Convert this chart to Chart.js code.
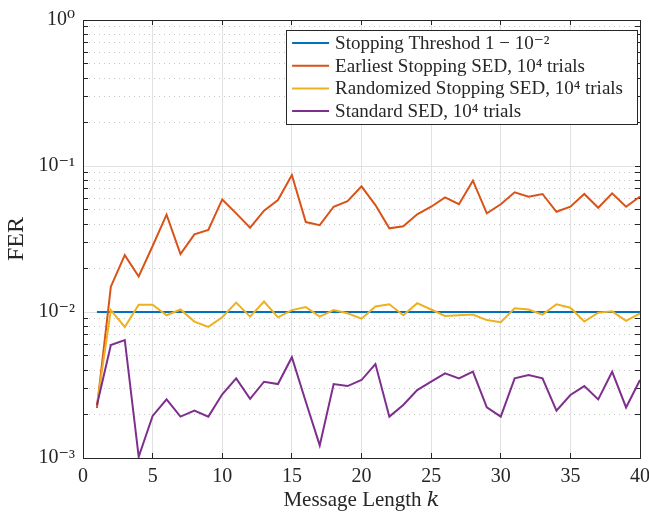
<!DOCTYPE html>
<html>
<head>
<meta charset="utf-8">
<script src="https://cdn.jsdelivr.net/npm/chart.js@4.4.1/dist/chart.umd.min.js"></script>
<style>
  html, body { margin: 0; padding: 0; background: #fff; }
</style>
</head>
<body>
<canvas id="ferChart" width="649" height="513"></canvas>
<script>
// message lengths
var k = [1, 2, 3, 4, 5, 6, 7, 8, 9, 10, 11, 12, 13, 14, 15, 16, 17, 18, 19, 20,
         21, 22, 23, 24, 25, 26, 27, 28, 29, 30, 31, 32, 33, 34, 35, 36, 37, 38, 39, 40];

// stopping threshold 1 - 10^-2 (flat line)
var kThreshold = [1, 40];
var threshold = [0.01, 0.01];

var earliest = [0.0022, 0.0149, 0.0245, 0.0175, 0.0283, 0.0464, 0.0249, 0.034, 0.0365, 0.059,
                0.0474, 0.0378, 0.0494, 0.0585, 0.0867, 0.0413, 0.0393, 0.0526, 0.0575, 0.0726,
                0.054, 0.0374, 0.0386, 0.0467, 0.0526, 0.061, 0.0547, 0.0793, 0.0474, 0.0547,
                0.066, 0.0617, 0.0643, 0.0486, 0.0526, 0.0643, 0.0518, 0.065, 0.0526, 0.0617];

var randomized = [0.0023, 0.0103, 0.0079, 0.0112, 0.0112, 0.0095, 0.0104, 0.0086, 0.0079, 0.0092,
                  0.0116, 0.0093, 0.0118, 0.0092, 0.0103, 0.0108, 0.0093, 0.0103, 0.0098, 0.009,
                  0.0109, 0.0113, 0.0095, 0.0115, 0.0104, 0.0094, 0.0095, 0.0096, 0.0088, 0.0085,
                  0.0106, 0.0104, 0.0096, 0.0113, 0.0107, 0.0086, 0.0099, 0.0101, 0.0087, 0.0098];

var standard = [0.0023, 0.00594, 0.00643, 0.00102, 0.00194, 0.00252, 0.00192, 0.00211, 0.00192, 0.00273,
                0.00351, 0.00254, 0.00333, 0.00321, 0.0049, 0.00243, 0.00122, 0.00321, 0.00311, 0.00342,
                0.0044, 0.00192, 0.00231, 0.00292, 0.00333, 0.0038, 0.00351, 0.0039, 0.00222, 0.00192,
                0.00351, 0.0037, 0.00351, 0.00211, 0.0027, 0.00311, 0.00252, 0.0039, 0.00222, 0.00342];

var yTickValues = [0.001, 0.01, 0.1, 1];
var yTickLabels = ['10\u207B\u00B3', '10\u207B\u00B2', '10\u207B\u00B9', '10\u2070'];

var labels = [
  'Stopping Threshod 1 \u2212 10\u207B\u00B2',
  'Earliest Stopping SED, 10\u2074 trials',
  'Randomized Stopping SED, 10\u2074 trials',
  'Standard SED, 10\u2074 trials'
];

var serif = '"Liberation Serif", "DejaVu Serif", serif';
var axisColor = '#262626';

function pts(xs, ys) {
  return xs.map(function (x, i) { return {x: x, y: ys[i]}; });
}
function decadeIndex(v) {
  return yTickValues.findIndex(function (t) { return Math.abs(v - t) / t < 1e-6; });
}
// keep only 1..9 x 10^n ticks (drop the 1.5 ones chart.js adds)
function wholeMantissa(scale) {
  scale.ticks = scale.ticks.filter(function (t) {
    var m = t.value / Math.pow(10, Math.floor(Math.log10(t.value) + 1e-9));
    return Math.abs(m - Math.round(m)) < 1e-6;
  });
}
function noPad(s) {
  s.paddingLeft = 0; s.paddingRight = 0; s.paddingTop = 0; s.paddingBottom = 0;
}

var legendBox = {
  id: 'legendBox',
  afterDatasetsDraw: function (chart) {
    var ctx = chart.ctx, area = chart.chartArea;
    var sets = chart.data.datasets;
    ctx.save();
    ctx.font = '19px ' + serif;
    var maxW = Math.max.apply(null, sets.map(function (d) { return ctx.measureText(d.label).width; }));
    var rowH = 22.7;
    var w = 6 + 37 + 6 + maxW + 14;
    var h = 94;
    var right = area.right - 3, top = area.top + 10;
    var left = right - w;
    ctx.fillStyle = '#fff';
    ctx.fillRect(left, top, w, h);
    ctx.strokeStyle = axisColor;
    ctx.lineWidth = 1;
    ctx.strokeRect(Math.round(left) + 0.5, Math.round(top) + 0.5, Math.round(w), Math.round(h));
    ctx.textBaseline = 'middle';
    ctx.textAlign = 'left';
    sets.forEach(function (d, i) {
      var y = top + 13 + i * rowH;
      ctx.strokeStyle = d.borderColor;
      ctx.lineWidth = 2;
      ctx.beginPath();
      ctx.moveTo(left + 6, y);
      ctx.lineTo(left + 43, y);
      ctx.stroke();
      ctx.fillStyle = axisColor;
      ctx.fillText(d.label, left + 49, y + 1);
    });
    ctx.restore();
  }
};

var ctx = document.getElementById('ferChart').getContext('2d');
var ferChart = new Chart(ctx, {
  type: 'line',
  data: {
    datasets: [
      { label: labels[0], data: pts(kThreshold, threshold), borderColor: '#0072BD', order: 4 },
      { label: labels[1], data: pts(k, earliest), borderColor: '#D95319', order: 3 },
      { label: labels[2], data: pts(k, randomized), borderColor: '#EDB120', order: 2 },
      { label: labels[3], data: pts(k, standard), borderColor: '#7E2F8E', order: 1 }
    ]
  },
  options: {
    responsive: false,
    animation: false,
    layout: { padding: { left: 0, right: 9, top: 20, bottom: 0 } },
    elements: {
      line: { borderWidth: 2, tension: 0, fill: false },
      point: { radius: 0 }
    },
    plugins: {
      legend: { display: false },
      tooltip: { enabled: false }
    },
    scales: {
      x: {
        type: 'linear', position: 'bottom', min: 0, max: 40,
        ticks: { stepSize: 5, color: axisColor, font: { family: serif, size: 20 }, padding: 12, maxRotation: 0 },
        grid: {
          color: function (c) { return (c.tick && (c.tick.value === 0 || c.tick.value === 40)) ? 'rgba(0,0,0,0)' : '#e2e2e2'; },
          tickLength: -5, tickColor: axisColor, tickBorderDash: []
        },
        border: { color: axisColor, width: 1 },
        title: { display: true, text: 'Message Length \uD835\uDC58', color: axisColor, font: { family: serif, size: 21 }, padding: { top: 0, bottom: 0 } },
        afterFit: function (s) { noPad(s); s.height = 55; }
      },
      x2: {
        type: 'linear', position: 'top', min: 0, max: 40,
        ticks: { stepSize: 5, display: false },
        grid: { drawOnChartArea: false, tickLength: -5, tickColor: axisColor },
        border: { color: axisColor, width: 1 },
        afterFit: function (s) { noPad(s); s.height = 0; }
      },
      y: {
        type: 'logarithmic', position: 'left', min: 0.001, max: 1,
        afterBuildTicks: wholeMantissa,
        ticks: {
          autoSkip: false, color: axisColor, font: { family: serif, size: 20 }, padding: 13,
          callback: function (v) { var i = decadeIndex(v); return i >= 0 ? yTickLabels[i] : ''; }
        },
        grid: {
          color: function (c) { return (c.tick && decadeIndex(c.tick.value) >= 0) ? 'rgba(0,0,0,0)' : '#c4c4c4'; },
          tickLength: -5, tickColor: axisColor, tickBorderDash: []
        },
        border: { color: axisColor, width: 1, dash: [1, 4] },
        title: { display: true, text: 'FER', color: axisColor, font: { family: serif, size: 24 }, padding: { top: 2, bottom: 0 } },
        afterFit: function (s) { noPad(s); s.width = 83; }
      },
      y2: {
        type: 'logarithmic', position: 'right', min: 0.001, max: 1,
        afterBuildTicks: wholeMantissa,
        ticks: { display: false },
        grid: {
          color: function (c) {
            var i = c.tick ? decadeIndex(c.tick.value) : -1;
            return (i > 0 && i < yTickValues.length - 1) ? '#e2e2e2' : 'rgba(0,0,0,0)';
          },
          tickLength: -5, tickColor: axisColor, tickBorderDash: []
        },
        border: { color: axisColor, width: 1 },
        afterFit: function (s) { noPad(s); s.width = 0; }
      }
    }
  },
  plugins: [legendBox]
});
</script>
</body>
</html>
